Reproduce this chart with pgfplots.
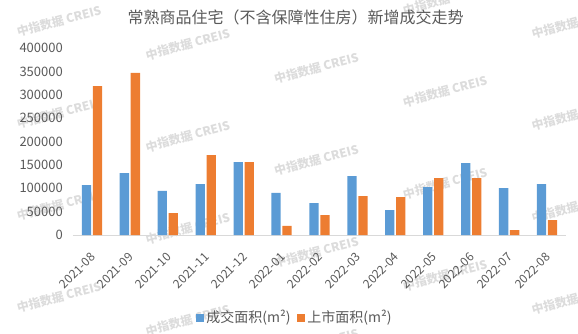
\documentclass[border=0pt]{standalone}
\usepackage{fontspec}
\setmainfont{Noto Sans CJK SC}
\usepackage{pgfplots}
\pgfplotsset{compat=1.18}
\definecolor{cblue}{HTML}{5B9BD5}
\definecolor{corange}{HTML}{ED7D31}
\definecolor{txtgray}{HTML}{595959}
\definecolor{axgray}{HTML}{D9D9D9}
\definecolor{wm}{HTML}{DCDCDC}
\begin{document}
\begin{tikzpicture}[x=1pt,y=1pt]
\useasboundingbox (-73,-98) rectangle (505,235);
\clip (-73,-98) rectangle (505,235);
% watermark
\foreach \k in {0,...,4}{
  \foreach \j in {-1,...,3}{
    \pgfmathsetmacro{\wx}{59+128.7*\k-73}
    \pgfmathsetmacro{\wy}{235-(21+23.5*\k+92*\j)}
    \node[text=wm, rotate=15, font=\bfseries\fontsize{12}{12}\selectfont] at (\wx,\wy) {中指数据 CREIS};
  }
}
% title
\node[text=txtgray, font=\fontsize{16}{16}\selectfont] at (295.5-73,235-17) {常熟商品住宅（不含保障性住房）新增成交走势};
\begin{axis}[
  at={(0,0)}, anchor=south west,
  scale only axis, width=493pt, height=186.7pt,
  ybar=1.7pt, bar width=9.3pt,
  xmin=-0.5, xmax=12.5, ymin=0, ymax=400000,
  enlargelimits=false,
  xtick=data,
  xticklabels={2021-08,2021-09,2021-10,2021-11,2021-12,2022-01,2022-02,2022-03,2022-04,2022-05,2022-06,2022-07,2022-08},
  ytick={0,50000,...,400000},
  scaled y ticks=false,
  yticklabel={\pgfmathprintnumber[fixed,1000 sep={},assume math mode=true]{\tick}},
  axis x line*=bottom, axis y line*=left,
  y axis line style={draw=none},
  x axis line style={draw=axgray, line width=1pt, -},
  major tick length=0pt,
  tick style={draw=none},
  yticklabel style={font=\fontsize{13}{13}\selectfont, text=txtgray, inner sep=0pt, xshift=-10pt, anchor=east},
  xticklabel style={font=\fontsize{12}{12}\selectfont, text=txtgray, inner sep=0pt, xshift=1.3pt, yshift=-20pt, rotate=45, anchor=east},
  legend columns=2,
  legend style={at={(axis description cs:0.4503,-0.4419)}, anchor=center, draw=none, fill=none,
    font=\fontsize{14}{14}\selectfont, text=txtgray, inner sep=0pt,
    /tikz/every even column/.append style={column sep=5pt}},
  legend cell align=left,
  legend image code/.code={\fill[#1] (0pt,-4pt) rectangle (8pt,4pt);},
]
\addplot[fill=cblue, draw=none] coordinates {
(0,107000) (1,132800) (2,94300) (3,109200) (4,156400) (5,90000) (6,68500)
(7,126400) (8,53500) (9,102800) (10,154200) (11,100700) (12,109200)};
\addplot[fill=corange, draw=none] coordinates {
(0,319000) (1,347600) (2,47100) (3,171400) (4,156400) (5,19300) (6,42800)
(7,83500) (8,81400) (9,122100) (10,122100) (11,10700) (12,32100)};
\legend{成交面积(m²),上市面积(m²)}
\end{axis}
\end{tikzpicture}
\end{document}
